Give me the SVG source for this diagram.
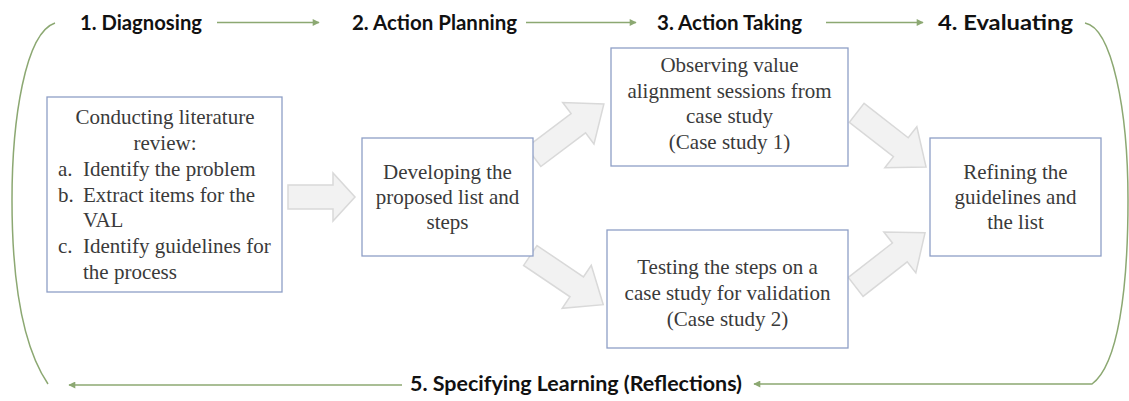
<svg xmlns="http://www.w3.org/2000/svg" width="1129" height="401" viewBox="0 0 1129 401">
  <defs>
    <marker id="ah" viewBox="0 0 10 10" refX="9" refY="5" markerWidth="8" markerHeight="7" markerUnits="userSpaceOnUse" orient="auto">
      <path d="M0,0 L10,5 L0,10 Z" fill="#8CA872"/>
    </marker>
    <path id="barrow" d="M0,-12 L56,-12 L56,-26 L88,0 L56,26 L56,12 L0,12 Z"/>
  </defs>
  <style>
    .head { font-family: Lato, "Liberation Sans", sans-serif; font-weight: 700; font-size: 20.5px; fill: #111; }
    .box { fill: #fff; stroke: #8E9FC6; stroke-width: 1.3; }
    .txt { font-family: "Liberation Serif", "DejaVu Serif", serif; font-size: 21px; fill: #3a3a3a; }
    .c { text-anchor: middle; }
    .flow { fill: none; stroke: #8CA872; stroke-width: 1.5; }
    .blk { fill: #F2F2F2; stroke: #D9D9D9; stroke-width: 1.5; }
  </style>

  <g id="connectors">
    <path class="flow" d="M217,22.5 L319,22.5" marker-end="url(#ah)"/>
    <path class="flow" d="M526,22.5 L636,22.5" marker-end="url(#ah)"/>
    <path class="flow" d="M826,22.5 L923,22.5" marker-end="url(#ah)"/>
    <path class="flow" d="M1085,23 C1112,28 1128,110 1128,200 C1128,290 1118,365 1092,384 L754,384" marker-end="url(#ah)"/>
    <path class="flow" d="M402,385 L69,385" marker-end="url(#ah)"/>
    <path class="flow" d="M55,23 C25,33 12,120 12,200 C12,290 25,350 48,384"/>
    <path class="blk" d="M288,185 L333,185 L333,173 L355,197 L333,221 L333,209 L288,209 Z"/>
    <use href="#barrow" class="blk" transform="translate(533.6,156.9) rotate(-37)"/>
    <use href="#barrow" class="blk" transform="translate(530.3,255.5) rotate(34)"/>
    <use href="#barrow" class="blk" transform="translate(856.7,112.8) rotate(38)"/>
    <use href="#barrow" class="blk" transform="translate(855.7,286.9) rotate(-38)"/>
  </g>

  <g id="stage1"><text class="head" x="80" y="30" textLength="122" lengthAdjust="spacingAndGlyphs">1. Diagnosing</text></g>
  <g id="stage2"><text class="head" x="352" y="30" textLength="165" lengthAdjust="spacingAndGlyphs">2. Action Planning</text></g>
  <g id="stage3"><text class="head" x="657" y="30" textLength="145" lengthAdjust="spacingAndGlyphs">3. Action Taking</text></g>
  <g id="stage4"><text class="head" x="938" y="30" textLength="135" lengthAdjust="spacingAndGlyphs">4. Evaluating</text></g>
  <g id="stage5"><text class="head" x="410" y="391" textLength="332" lengthAdjust="spacingAndGlyphs">5. Specifying Learning (Reflections)</text></g>

  <g id="box-literature">
    <rect class="box" x="47" y="97" width="235" height="195"/>
    <text class="txt c" x="165" y="124">Conducting literature</text>
    <text class="txt c" x="165" y="150">review:</text>
    <text class="txt" x="58" y="176">a.</text><text class="txt" x="83" y="176">Identify the problem</text>
    <text class="txt" x="58" y="202">b.</text><text class="txt" x="83" y="202">Extract items for the</text>
    <text class="txt" x="83" y="227">VAL</text>
    <text class="txt" x="58" y="253">c.</text><text class="txt" x="83" y="253">Identify guidelines for</text>
    <text class="txt" x="83" y="279">the process</text>
  </g>

  <g id="box-developing">
    <rect class="box" x="362" y="138" width="171" height="118"/>
    <text class="txt c" x="447.5" y="179">Developing the</text>
    <text class="txt c" x="447.5" y="204">proposed list and</text>
    <text class="txt c" x="447.5" y="229">steps</text>
  </g>

  <g id="box-observing">
    <rect class="box" x="611" y="48" width="237" height="118"/>
    <text class="txt c" x="729.5" y="72">Observing value</text>
    <text class="txt c" x="729.5" y="98">alignment sessions from</text>
    <text class="txt c" x="729.5" y="123">case study</text>
    <text class="txt c" x="729.5" y="149">(Case study 1)</text>
  </g>

  <g id="box-testing">
    <rect class="box" x="607" y="230" width="241" height="118"/>
    <text class="txt c" x="727.5" y="274">Testing the steps on a</text>
    <text class="txt c" x="727.5" y="300">case study for validation</text>
    <text class="txt c" x="727.5" y="326">(Case study 2)</text>
  </g>

  <g id="box-refining">
    <rect class="box" x="930" y="138" width="171" height="118"/>
    <text class="txt c" x="1015.5" y="179">Refining the</text>
    <text class="txt c" x="1015.5" y="204">guidelines and</text>
    <text class="txt c" x="1015.5" y="229">the list</text>
  </g>
</svg>
